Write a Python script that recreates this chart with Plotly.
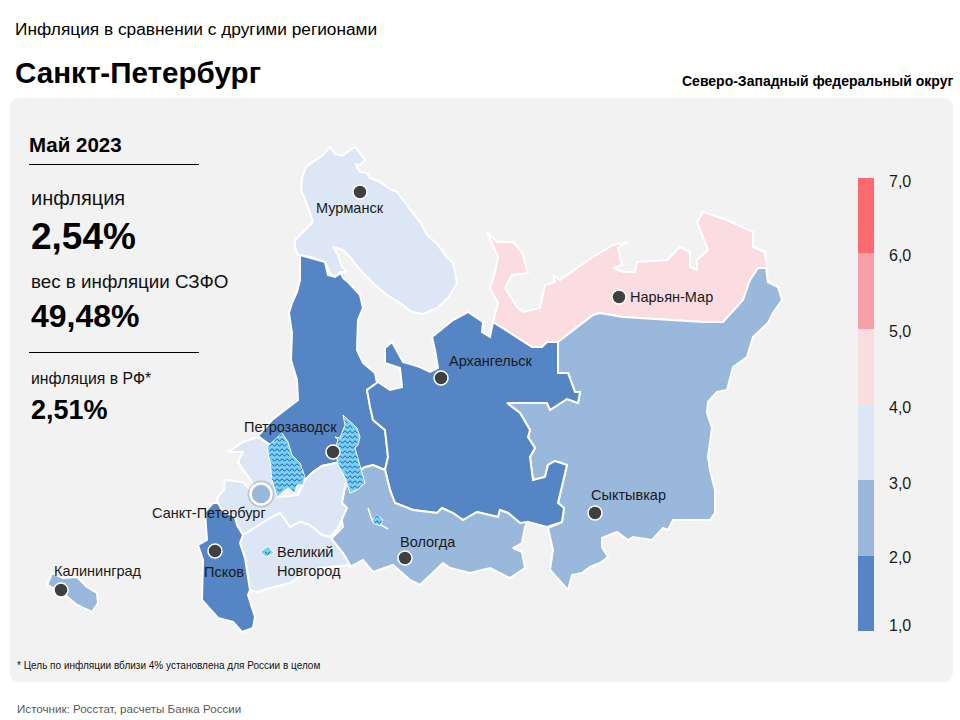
import plotly.graph_objects as go

murmansk = [(295,240),(313,222),(308,207),(301,190),(302,178),(306,167),(313,162),(323,155),(330,147),(335,154),(342,156),(350,150),(355,147),(365,160),(360,165),(355,164),(360,172),(367,173),(370,178),(380,182),(388,188),(397,192),(408,207),(420,222),(427,235),(438,245),(445,255),(453,263),(457,283),(448,298),(437,308),(423,314),(412,312),(400,303),(387,295),(375,285),(365,275),(360,270),(350,257),(343,250),(333,247),(338,255),(342,267),(347,272),(340,272),(335,277),(330,273),(325,262),(310,257),(298,255),(295,247)]
karelia = [(300,255),(325,262),(328,275),(335,277),(341,273),(343,278),(349,283),(360,295),(363,308),(358,320),(357,350),(363,363),(375,373),(377,383),(367,390),(370,407),(373,420),(385,430),(388,457),(385,470),(373,465),(365,467),(362,470),(340,462),(322,466),(313,472),(305,480),(290,470),(270,445),(258,436),(272,420),(285,410),(298,400),(297,380),(291,360),(292,333),(289,313),(292,303),(297,292),(300,280)]
arkhangelsk = [(432,337),(453,320),(468,312),(483,322),(482,332),(490,337),(493,322),(513,335),(532,347),(542,347),(547,342),(558,342),(558,373),(568,373),(575,392),(580,392),(578,403),(567,399),(550,410),(547,403),(525,403),(507,403),(520,413),(530,430),(528,437),(535,448),(530,457),(533,480),(545,477),(548,465),(555,461),(567,465),(558,503),(564,508),(562,522),(547,527),(528,522),(525,527),(520,523),(508,513),(500,510),(498,517),(477,512),(463,520),(453,513),(442,508),(437,513),(413,510),(395,503),(390,490),(385,470),(388,457),(385,430),(373,420),(370,407),(367,390),(378,382),(390,390),(402,387),(400,368),(385,363),(385,348),(392,342),(403,362),(420,367),(430,372),(438,368),(435,350)]
komi = [(558,342),(593,315),(600,313),(623,317),(703,322),(723,322),(743,300),(750,280),(758,268),(766,268),(768,282),(778,287),(782,300),(773,313),(768,323),(753,337),(747,357),(733,367),(727,390),(717,392),(708,402),(707,413),(712,428),(708,457),(710,470),(715,490),(715,513),(710,520),(673,520),(668,530),(663,528),(652,540),(633,537),(628,540),(617,532),(602,538),(602,547),(608,557),(600,563),(590,567),(582,573),(572,575),(568,590),(550,570),(553,550),(548,528),(562,522),(564,508),(558,503),(567,465),(555,461),(548,465),(545,477),(533,480),(530,457),(535,448),(528,437),(530,430),(520,413),(507,403),(525,403),(547,403),(550,410),(567,399),(578,403),(580,392),(575,392),(568,373),(558,373)]
nenets = [(558,342),(547,342),(542,347),(532,347),(513,335),(493,322),(498,303),(490,288),(495,272),(498,257),(487,232),(497,242),(513,242),(522,252),(528,273),(512,275),(505,288),(517,307),(523,312),(540,308),(545,285),(555,282),(553,275),(560,280),(593,257),(613,245),(628,242),(618,248),(622,265),(613,268),(623,272),(635,272),(637,262),(667,260),(680,247),(690,252),(690,267),(697,270),(697,260),(708,250),(697,222),(703,212),(727,220),(753,232),(753,247),(765,252),(767,268),(758,268),(750,280),(743,300),(723,322),(703,322),(623,317),(600,313),(593,315)]
vologda = [(330,540),(343,527),(340,510),(345,487),(348,485),(363,468),(373,465),(385,470),(390,490),(395,503),(413,510),(437,513),(442,508),(453,513),(463,520),(477,512),(498,517),(500,510),(508,513),(520,523),(527,522),(525,527),(522,543),(513,548),(522,552),(525,568),(510,578),(490,568),(470,573),(450,568),(443,563),(430,575),(420,585),(410,580),(393,565),(373,572),(363,560),(350,567),(340,557)]
leningrad = [(258,437),(243,442),(228,452),(243,452),(238,462),(245,472),(252,482),(252,492),(243,482),(225,480),(224,490),(217,498),(218,503),(222,510),(235,517),(237,525),(243,535),(248,532),(270,518),(280,513),(290,527),(300,522),(310,525),(322,535),(330,537),(338,528),(347,508),(342,503),(345,487),(350,470),(340,462),(322,466),(313,472),(305,480),(298,495),(278,497),(270,445)]
novgorod = [(243,535),(248,532),(270,518),(280,513),(290,527),(300,522),(310,525),(322,535),(330,537),(343,553),(350,565),(320,568),(305,573),(290,583),(270,588),(258,592),(250,590),(248,577),(245,558),(240,543)]
pskov = [(213,503),(205,512),(207,540),(198,545),(203,560),(202,600),(218,618),(233,622),(242,632),(253,628),(255,617),(248,595),(250,590),(245,558),(240,543),(243,535),(237,525),(235,517),(222,510),(218,503)]
kaliningrad = [(47,585),(52,573),(63,578),(77,577),(87,587),(97,593),(98,603),(92,612),(77,605),(63,593),(53,588)]

ladoga = [(282,433),(288,442),(292,455),(300,463),(305,477),(303,485),(297,485),(295,493),(288,488),(277,497),(272,480),(270,462),(267,447),(275,440)]
onega = [(343,415),(357,428),(360,437),(358,445),(355,448),(360,465),(365,483),(357,490),(350,493),(345,477),(338,465),(335,448),(338,440),(335,437),(340,438),(343,430),(345,425)]
beloye = [(372,520),(377,515),(383,520),(380,526),(373,523)]
beloye_spits = [(368,508),(372,520),None,(381,525),(388,529)]
ilmen = [(260,552),(268,546),(274,553),(266,557)]

# inflation band of each region
dark, mid, light, pink, salmon, red = "#5585C4", "#9AB7DC", "#DCE6F4", "#FADCE1", "#F89FA7", "#FC6A70"
regions = [
    (murmansk, light), (nenets, pink), (komi, mid), (karelia, dark), (arkhangelsk, dark),
    (vologda, mid), (leningrad, light), (novgorod, light), (pskov, dark), (kaliningrad, mid),
]
lakes = [ladoga, onega, beloye, ilmen]

city_names = ["Мурманск", "Нарьян-Мар", "Архангельск", "Петрозаводск", "Сыктывкар", "Вологда", "Псков", "Калининград"]
city_x = [360, 619, 441, 333, 595, 405, 215, 61]
city_y = [192, 297, 378, 452, 513, 558, 551, 590]
label_x = [350, 671, 491, 290, 628, 428, 224, 98]
label_y = [208, 297, 361, 427, 495, 542, 572, 571]

scale_low = [1, 2, 3, 4, 5, 6]
scale_colors = [dark, mid, light, pink, salmon, red]
scale_labels = ["1,0", "2,0", "3,0", "4,0", "5,0", "6,0", "7,0"]
scale_label_y = [625, 557, 483, 407, 331, 255, 181]


def inside(px, py, outline):
    hit = False
    for (x0, y0), (x1, y1) in zip(outline, outline[1:] + outline[:1]):
        if (y0 > py) != (y1 > py) and px < x0 + (py - y0) / (y1 - y0) * (x1 - x0):
            hit = not hit
    return hit


def wave_texture(outline):
    # the water hatch: zigzag rows kept inside the lake outline
    xs, ys = [], []
    left, right = min(p[0] for p in outline), max(p[0] for p in outline)
    top, bottom = min(p[1] for p in outline), max(p[1] for p in outline)
    row = top + 2
    while row < bottom:
        step = 0
        x = left
        while x <= right:
            y = row + (1.3 if step % 2 else -1.3)
            if inside(x, y, outline):
                xs.append(x)
                ys.append(y)
            elif xs and xs[-1] is not None:
                xs.append(None)
                ys.append(None)
            x += 2.5
            step += 1
        xs.append(None)
        ys.append(None)
        row += 5
    return xs, ys


fig = go.Figure()

for outline, color in regions:
    xs, ys = zip(*outline)
    fig.add_trace(go.Scatter(x=xs + xs[:1], y=ys + ys[:1], mode="lines", fill="toself", fillcolor=color,
                             line=dict(color="white", width=2), hoverinfo="skip"))

for outline in lakes:
    xs, ys = zip(*outline)
    fig.add_trace(go.Scatter(x=xs + xs[:1], y=ys + ys[:1], mode="lines", fill="toself", fillcolor="#7BD0F5",
                             line=dict(color="white", width=1), hoverinfo="skip"))
    wave_x, wave_y = wave_texture(outline)
    fig.add_trace(go.Scatter(x=wave_x, y=wave_y, mode="lines", line=dict(color="#1A5FA8", width=1), hoverinfo="skip"))

fig.add_trace(go.Scatter(x=[p[0] if p else None for p in beloye_spits], y=[p[1] if p else None for p in beloye_spits],
                         mode="lines", line=dict(color="white", width=1.5), hoverinfo="skip"))

fig.add_trace(go.Scatter(x=city_x, y=city_y, mode="markers", hoverinfo="skip",
                         marker=dict(size=14, color="#404040", line=dict(color="white", width=1.5))))

# Saint Petersburg marker with soft halo
fig.add_trace(go.Scatter(x=[261], y=[494], mode="markers", hoverinfo="skip",
                         marker=dict(size=27, color="rgba(90,90,90,0.25)")))
fig.add_trace(go.Scatter(x=[261], y=[494], mode="markers", hoverinfo="skip",
                         marker=dict(size=21, color=mid, line=dict(color="white", width=2.5))))

fig.add_trace(go.Bar(x=["scale"] * 6, y=[1] * 6, base=scale_low, width=1, marker=dict(color=scale_colors, line_width=0),
                     xaxis="x2", yaxis="y2", hoverinfo="skip"))

# grey panel and separators
fig.add_shape(type="path", layer="below", line_width=0, fillcolor="#F2F2F2",
              path="M20,98 H943 Q953,98 953,108 V672 Q953,682 943,682 H20 Q10,682 10,672 V108 Q10,98 20,98 Z")
fig.add_shape(type="line", x0=29, x1=199, y0=164.5, y1=164.5, line=dict(color="black", width=1))
fig.add_shape(type="line", x0=29, x1=199, y0=352.5, y1=352.5, line=dict(color="black", width=1))


def label(x, y, text, size, bold=False, anchor="left", color="#111111"):
    if bold:
        text = "<b>" + text + "</b>"
    shift = {"left": -2, "right": 3, "center": 0}[anchor]
    fig.add_annotation(x=x, y=y, text=text, showarrow=False, xanchor=anchor, yanchor="middle", xshift=shift,
                       font=dict(size=size, color=color, family="Liberation Sans"))


label(15, 29, "Инфляция в сравнении с другими регионами", 17.3, color="black")
label(15, 72, "Санкт-Петербург", 29.6, True, color="black")
label(952, 81, "Северо-Западный федеральный округ", 14, True, "right", "black")
label(29, 144, "Май 2023", 20.5, True, color="black")
label(31, 198, "инфляция", 20)
label(31, 236, "2,54%", 37, True, color="black")
label(31, 281, "вес в инфляции СЗФО", 18.8)
label(31, 316, "49,48%", 32, True, color="black")
label(31, 378, "инфляция в РФ*", 15.8)
label(31, 410, "2,51%", 27, True, color="black")
label(17, 665, "* Цель по инфляции вблизи 4% установлена для России в целом", 10)
label(17, 708, "Источник: Росстат, расчеты Банка России", 11.6, color="#595959")

for name, x, y in zip(city_names, label_x, label_y):
    label(x, y, name, 14.5, anchor="center", color="#1a1a1a")
label(277, 552, "Великий", 14.5, color="#1a1a1a")
label(277, 571, "Новгород", 14.5, color="#1a1a1a")
label(209, 513, "Санкт-Петербург", 14.5, anchor="center", color="#1a1a1a")

for text, y in zip(scale_labels, scale_label_y):
    label(889, y, text, 16, color="#1a1a1a")

fig.update_layout(
    width=960, height=720, margin=dict(l=0, r=0, t=0, b=0),
    paper_bgcolor="white", plot_bgcolor="rgba(0,0,0,0)", showlegend=False, barmode="overlay",
    xaxis=dict(range=[0, 960], domain=[0, 1], visible=False, fixedrange=True),
    yaxis=dict(range=[720, 0], domain=[0, 1], visible=False, fixedrange=True),
    xaxis2=dict(domain=[858 / 960, 874 / 960], anchor="y2", visible=False, fixedrange=True),
    yaxis2=dict(domain=[89 / 720, 542 / 720], range=[1, 7], anchor="x2", visible=False, fixedrange=True),
)

fig.write_html("out.html", config=dict(displayModeBar=False),
               post_script="document.body.style.margin = '0';")
